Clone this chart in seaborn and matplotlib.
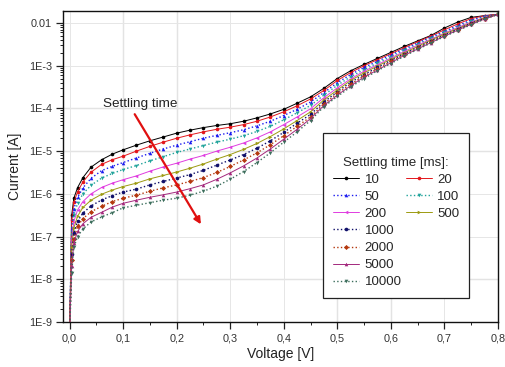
import numpy as np
import pandas as pd
import matplotlib
matplotlib.use("Agg")
import matplotlib.pyplot as plt
import matplotlib.ticker as mticker
from matplotlib.lines import Line2D
import seaborn as sns

# voltage sweep points [V]
voltage = [0.0, 0.004, 0.008, 0.015, 0.025, 0.04, 0.06, 0.08, 0.10, 0.125,
           0.15, 0.175, 0.20, 0.225, 0.25, 0.275, 0.30, 0.325, 0.35, 0.375,
           0.40, 0.425, 0.45, 0.475, 0.50, 0.525, 0.55, 0.575, 0.60, 0.625,
           0.65, 0.675, 0.70, 0.725, 0.75, 0.775, 0.80]

# current [A] for each settling time
i_10 = [5e-10, 3.2e-7, 7.9e-7, 1.4e-6, 2.4e-6, 4.2e-6, 6.3e-6, 8.5e-6, 1.07e-5, 1.38e-5,
        1.74e-5, 2.14e-5, 2.63e-5, 3.09e-5, 3.55e-5, 3.98e-5, 4.37e-5, 5.0e-5, 6.0e-5, 7.4e-5,
        9.5e-5, 1.32e-4, 1.86e-4, 2.95e-4, 5.0e-4, 7.6e-4, 1.07e-3, 1.48e-3, 2.04e-3, 2.82e-3,
        3.8e-3, 5.1e-3, 7.6e-3, 1.05e-2, 1.35e-2, 1.48e-2, 1.58e-2]
i_20 = [5e-10, 2.5e-7, 6.3e-7, 1.12e-6, 1.9e-6, 3.2e-6, 4.9e-6, 6.3e-6, 7.6e-6, 1.0e-5,
        1.29e-5, 1.62e-5, 2.0e-5, 2.4e-5, 2.82e-5, 3.24e-5, 3.63e-5, 4.17e-5, 5.0e-5, 6.3e-5,
        8.3e-5, 1.15e-4, 1.66e-4, 2.63e-4, 4.5e-4, 6.9e-4, 1.0e-3, 1.38e-3, 1.9e-3, 2.63e-3,
        3.63e-3, 4.9e-3, 6.9e-3, 9.5e-3, 1.26e-2, 1.48e-2, 1.58e-2]
i_50 = [5e-10, 1.6e-7, 4.5e-7, 8.3e-7, 1.38e-6, 2.3e-6, 3.5e-6, 4.4e-6, 5.4e-6, 6.9e-6,
        8.9e-6, 1.12e-5, 1.38e-5, 1.66e-5, 2.0e-5, 2.34e-5, 2.69e-5, 3.16e-5, 3.9e-5, 5.0e-5,
        6.8e-5, 9.5e-5, 1.41e-4, 2.34e-4, 3.98e-4, 6.2e-4, 9.1e-4, 1.26e-3, 1.78e-3, 2.45e-3,
        3.39e-3, 4.7e-3, 6.3e-3, 8.7e-3, 1.17e-2, 1.45e-2, 1.58e-2]
i_100 = [5e-10, 1.12e-7, 3.2e-7, 6.0e-7, 1.0e-6, 1.58e-6, 2.34e-6, 3.0e-6, 3.7e-6, 4.6e-6,
         5.9e-6, 7.4e-6, 9.3e-6, 1.12e-5, 1.35e-5, 1.62e-5, 1.9e-5, 2.29e-5, 2.88e-5, 3.8e-5,
         5.4e-5, 7.9e-5, 1.17e-4, 2.04e-4, 3.47e-4, 5.5e-4, 8.1e-4, 1.15e-3, 1.62e-3, 2.29e-3,
         3.16e-3, 4.4e-3, 6.0e-3, 8.1e-3, 1.1e-2, 1.38e-2, 1.58e-2]
i_200 = [5e-10, 7.9e-8, 2.24e-7, 4.2e-7, 6.6e-7, 1.0e-6, 1.41e-6, 1.78e-6, 2.14e-6, 2.63e-6,
         3.39e-6, 4.27e-6, 5.2e-6, 6.5e-6, 7.9e-6, 1.0e-5, 1.23e-5, 1.55e-5, 2.04e-5, 2.82e-5,
         4.17e-5, 6.3e-5, 9.8e-5, 1.78e-4, 3.02e-4, 4.9e-4, 7.4e-4, 1.05e-3, 1.51e-3, 2.14e-3,
         3.02e-3, 4.17e-3, 5.75e-3, 7.8e-3, 1.05e-2, 1.35e-2, 1.58e-2]
i_500 = [5e-10, 5.6e-8, 1.58e-7, 3.0e-7, 4.8e-7, 7.1e-7, 9.8e-7, 1.23e-6, 1.48e-6, 1.78e-6,
         2.24e-6, 2.69e-6, 3.24e-6, 3.98e-6, 5.0e-6, 6.5e-6, 8.3e-6, 1.1e-5, 1.51e-5, 2.19e-5,
         3.31e-5, 5.2e-5, 8.3e-5, 1.58e-4, 2.69e-4, 4.5e-4, 6.8e-4, 9.8e-4, 1.41e-3, 2.0e-3,
         2.82e-3, 3.98e-3, 5.5e-3, 7.4e-3, 1.0e-2, 1.32e-2, 1.58e-2]
i_1000 = [5e-10, 4.0e-8, 1.2e-7, 2.29e-7, 3.55e-7, 5.2e-7, 7.2e-7, 9.1e-7, 1.1e-6, 1.29e-6,
          1.62e-6, 1.95e-6, 2.34e-6, 2.82e-6, 3.55e-6, 4.7e-6, 6.2e-6, 8.3e-6, 1.17e-5, 1.74e-5,
          2.75e-5, 4.5e-5, 7.2e-5, 1.41e-4, 2.45e-4, 4.07e-4, 6.2e-4, 9.1e-4, 1.32e-3, 1.9e-3,
          2.69e-3, 3.8e-3, 5.2e-3, 7.2e-3, 9.8e-3, 1.29e-2, 1.58e-2]
i_2000 = [5e-10, 2.8e-8, 8.9e-8, 1.74e-7, 2.63e-7, 3.8e-7, 5.1e-7, 6.6e-7, 7.9e-7, 9.3e-7,
          1.15e-6, 1.38e-6, 1.62e-6, 1.95e-6, 2.4e-6, 3.16e-6, 4.37e-6, 6.2e-6, 9.1e-6, 1.41e-5,
          2.29e-5, 3.8e-5, 6.3e-5, 1.29e-4, 2.24e-4, 3.7e-4, 5.75e-4, 8.5e-4, 1.26e-3, 1.82e-3,
          2.57e-3, 3.63e-3, 5.0e-3, 6.9e-3, 9.5e-3, 1.26e-2, 1.58e-2]
i_5000 = [5e-10, 2.0e-8, 7.1e-8, 1.32e-7, 2.0e-7, 2.82e-7, 3.7e-7, 4.9e-7, 6.0e-7, 7.1e-7,
          8.3e-7, 9.5e-7, 1.1e-6, 1.32e-6, 1.62e-6, 2.19e-6, 3.09e-6, 4.5e-6, 6.9e-6, 1.12e-5,
          1.9e-5, 3.24e-5, 5.75e-5, 1.17e-4, 2.04e-4, 3.39e-4, 5.4e-4, 7.9e-4, 1.17e-3, 1.74e-3,
          2.45e-3, 3.47e-3, 4.9e-3, 6.8e-3, 9.3e-3, 1.23e-2, 1.58e-2]
i_10000 = [5e-10, 1.41e-8, 5.6e-8, 1.0e-7, 1.51e-7, 2.19e-7, 2.88e-7, 3.63e-7, 4.7e-7, 5.4e-7,
           6.2e-7, 7.1e-7, 7.9e-7, 9.3e-7, 1.15e-6, 1.51e-6, 2.19e-6, 3.31e-6, 5.4e-6, 9.1e-6,
           1.62e-5, 2.82e-5, 5.2e-5, 1.1e-4, 1.9e-4, 3.16e-4, 5.0e-4, 7.6e-4, 1.12e-3, 1.66e-3,
           2.4e-3, 3.39e-3, 4.8e-3, 6.6e-3, 9.1e-3, 1.23e-2, 1.58e-2]

settling_ms = ["10", "20", "50", "100", "200", "500", "1000", "2000", "5000", "10000"]
currents = [i_10, i_20, i_50, i_100, i_200, i_500, i_1000, i_2000, i_5000, i_10000]

# axis ticks and their labels
y_ticks = [1e-9, 1e-8, 1e-7, 1e-6, 1e-5, 1e-4, 1e-3, 1e-2]
y_tick_labels = ["1E-9", "1E-8", "1E-7", "1E-6", "1E-5", "1E-4", "1E-3", "0.01"]
x_ticks = [0.0, 0.1, 0.2, 0.3, 0.4, 0.5, 0.6, 0.7, 0.8]
x_tick_labels = ["0,0", "0,1", "0,2", "0,3", "0,4", "0,5", "0,6", "0,7", "0,8"]

colors = ["#000000", "#e3161b", "#1b1bf0", "#1fa39a", "#e03ce0",
          "#9c9a10", "#10106a", "#b4380e", "#a3287c", "#3c6e5c"]
styles = ["-", "-", ":", ":", "-", "-", ":", ":", "-", ":"]
markers = ["o", "o", "^", "v", "<", ">", "o", "D", "^", "v"]

sns.set_style("ticks")
plt.rcParams["font.family"] = ["Liberation Sans", "DejaVu Sans"]

fig = plt.figure(figsize=(5.05, 3.67), dpi=100)
ax = fig.add_axes([0.125, 0.1226, 0.861, 0.8474])
ax.set_yscale("log")

# grid (some lines rendered darker in the original)
ax.grid(True, which="major", color="#e6e6e6", lw=0.7)
for v in [0.1, 0.2, 0.5, 0.6]:
    ax.axvline(v, color="#8a8a8a", lw=0.8, zorder=0.5)
for c in [1e-4, 1e-5, 1e-8]:
    ax.axhline(c, color="#8a8a8a", lw=0.8, zorder=0.5)

handles = {}
for name, cur, col, ls, mk in zip(settling_ms, currents, colors, styles, markers):
    df = pd.DataFrame({"V": voltage, "I": cur})
    sns.lineplot(data=df, x="V", y="I", ax=ax, color=col, linestyle=ls,
                 lw=0.7 if ls == "-" else 1.0, marker=mk, markersize=2.6,
                 markeredgewidth=0, sort=False, label=name, legend=False)
    handles[name] = ax.lines[-1]

ax.set_xlim(-0.012, 0.8)
ax.set_ylim(1e-9, 0.019)

ax.set_xticks(x_ticks, x_tick_labels)
ax.xaxis.set_minor_locator(mticker.MultipleLocator(0.05))
ax.set_yticks(y_ticks, y_tick_labels)
ax.yaxis.set_minor_locator(mticker.LogLocator(base=10, subs=np.arange(2, 10), numticks=20))
ax.yaxis.set_minor_formatter(mticker.NullFormatter())

ax.tick_params(which="major", direction="out", length=5, width=0.9, labelsize=7.8,
               colors="#222222", labelcolor="#333333", pad=3)
ax.tick_params(which="minor", direction="out", length=2.5, width=0.7, colors="#222222")
for s in ax.spines.values():
    s.set_color("#111111")
    s.set_linewidth(1.0)

ax.set_xlabel("Voltage [V]", fontsize=10, color="#222222", labelpad=3)
ax.set_ylabel("Current [A]", fontsize=10, color="#222222", labelpad=5)

# settling time arrow
ax.annotate("", xy=(0.248, 1.7e-7), xytext=(0.119, 8.3e-5),
            arrowprops=dict(arrowstyle="-|>", color="#e01010", lw=1.6, mutation_scale=10))
ax.text(0.132, 1.26e-4, "Settling time", fontsize=9.7, color="#222222", ha="center", va="center")

# legend laid out like the original: two columns, second column short
blank = Line2D([], [], linestyle="none")
order1 = ["10", "50", "200", "1000", "2000", "5000", "10000"]
order2 = ["20", "100", "500"]
leg_handles = [handles[n] for n in order1] + [handles[n] for n in order2] + [blank] * 4
leg_labels = order1 + order2 + [""] * 4
leg = ax.legend(leg_handles, leg_labels, ncol=2, title="\nSettling time [ms]:",
                loc="upper left", bbox_to_anchor=(0.598, 0.608), borderaxespad=0,
                fontsize=9.5, title_fontsize=9.5, frameon=True, fancybox=False,
                handlelength=2.0, handletextpad=0.4, labelspacing=0.37,
                columnspacing=0.3, borderpad=0.75)
leg.get_frame().set_edgecolor("#222222")
leg.get_frame().set_linewidth(0.9)
leg.get_frame().set_alpha(1.0)

fig.savefig("out.png", dpi=100)
